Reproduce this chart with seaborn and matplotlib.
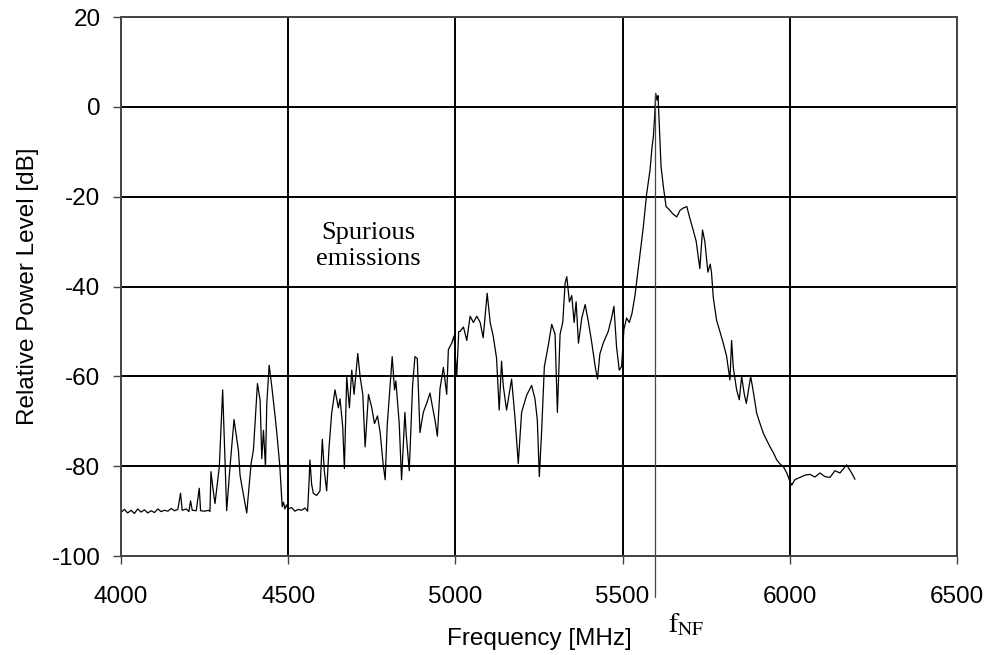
import pandas as pd
import seaborn as sns
import matplotlib.pyplot as plt

# spectrum (MHz, dB)
freq = [4000, 4010, 4020, 4030, 4040, 4050, 4060, 4070, 4080, 4090, 4100, 4110, 4120, 4130, 4140,
        4150, 4160, 4170, 4178, 4183, 4195, 4203, 4208, 4213, 4225, 4234, 4238, 4250, 4262, 4266,
        4269, 4275, 4281, 4288, 4294, 4304, 4316, 4326, 4338, 4351, 4356, 4361, 4376, 4389, 4396,
        4408, 4416, 4421, 4426, 4432, 4436, 4443, 4451, 4461, 4467, 4475, 4482, 4486, 4490, 4495,
        4500, 4510, 4520, 4530, 4540, 4550, 4558, 4562, 4565, 4570, 4575, 4585, 4595, 4602, 4608,
        4615, 4622, 4630, 4640, 4650, 4655, 4663, 4668, 4675, 4683, 4690, 4697, 4708, 4715, 4723,
        4730, 4740, 4750, 4758, 4767, 4775, 4784, 4790, 4796, 4805, 4811, 4818, 4822, 4832, 4839,
        4849, 4853, 4862, 4872, 4879, 4886, 4894, 4904, 4914, 4924, 4932, 4939, 4946, 4954, 4964,
        4974, 4979, 4989, 4996, 5004, 5010, 5014, 5024, 5034, 5044, 5054, 5064, 5074, 5083, 5095,
        5104, 5113, 5123, 5131, 5138, 5143, 5153, 5168, 5178, 5188, 5198, 5213, 5228, 5238, 5245,
        5251, 5258, 5266, 5278, 5288, 5298, 5305, 5313, 5321, 5328, 5333, 5341, 5348, 5355, 5361,
        5368, 5378, 5388, 5398, 5408, 5418, 5425, 5432, 5442, 5457, 5467, 5474, 5482, 5490, 5497,
        5504, 5512, 5520, 5528, 5537, 5550, 5562, 5572, 5582, 5588, 5592, 5596, 5599, 5603, 5606,
        5609, 5615, 5622, 5630, 5640, 5650, 5662, 5672, 5682, 5692, 5700, 5711, 5720, 5731, 5739,
        5746, 5755, 5762, 5766, 5771, 5781, 5791, 5801, 5811, 5821, 5826, 5831, 5841, 5849, 5856,
        5864, 5870, 5883, 5890, 5901, 5911, 5921, 5931, 5941, 5951, 5961, 5971, 5981, 5991, 6001,
        6006, 6015, 6030, 6045, 6060, 6075, 6090, 6105, 6120, 6135, 6150, 6170, 6185, 6195]
level = [-90.3, -89.6, -90.4, -89.8, -90.5, -89.5, -90.2, -89.7, -90.4, -89.9, -90.3, -89.5, -90.1, -89.8, -90.0,
         -89.4, -89.9, -89.6, -86.0, -89.8, -89.5, -90.1, -87.7, -89.8, -89.9, -84.9, -89.9, -90.0, -89.8, -90.1,
         -81.2, -85.0, -88.3, -83.8, -80.1, -63.0, -89.9, -80.1, -69.6, -76.4, -82.0, -84.2, -90.4, -79.4, -76.4,
         -61.6, -65.3, -78.3, -72.0, -80.1, -66.0, -57.5, -62.3, -69.0, -73.4, -80.1, -89.0, -88.0, -89.5, -88.6,
         -89.5, -89.2, -90.0, -89.6, -89.8, -89.3, -90.0, -84.0, -78.6, -84.0, -86.0, -86.5, -85.5, -74.0, -81.0,
         -85.5, -76.0, -68.2, -63.0, -67.0, -65.0, -71.2, -80.5, -60.1, -67.0, -58.6, -64.0, -54.9, -60.0, -64.0,
         -75.7, -64.0, -67.0, -70.5, -68.8, -72.5, -79.6, -83.0, -71.0, -61.8, -55.6, -63.0, -61.0, -70.5, -83.0,
         -68.0, -73.0, -81.0, -62.0, -55.6, -56.0, -72.5, -68.0, -66.0, -63.7, -67.0, -69.7, -73.3, -62.7, -58.0,
         -64.0, -54.0, -52.6, -51.0, -60.0, -50.0, -50.0, -49.0, -52.0, -46.6, -48.0, -46.6, -48.0, -51.4, -41.5,
         -48.0, -51.0, -55.9, -67.5, -56.6, -62.0, -67.5, -60.6, -69.0, -79.4, -68.0, -64.2, -62.0, -65.0, -69.7,
         -82.3, -72.0, -57.8, -53.0, -48.4, -50.6, -68.0, -50.6, -48.0, -39.3, -37.8, -43.4, -42.0, -48.0, -43.4,
         -52.6, -47.0, -44.0, -48.0, -52.6, -57.8, -60.6, -55.0, -52.6, -50.0, -47.0, -44.4, -53.5, -58.6, -57.8,
         -49.5, -47.0, -48.0, -46.0, -42.0, -34.1, -26.7, -19.3, -14.1, -9.0, -6.6, -2.0, 3.0, 1.5, 2.5,
         -2.9, -13.3, -17.8, -22.2, -22.9, -23.8, -24.5, -23.0, -22.5, -22.2, -24.5, -27.4, -29.9, -36.0, -27.4,
         -30.0, -36.8, -35.0, -37.0, -42.3, -47.5, -50.0, -52.6, -55.5, -60.8, -52.0, -58.0, -63.0, -65.2, -60.0,
         -64.0, -66.0, -60.0, -63.0, -68.2, -70.5, -72.7, -74.2, -75.7, -77.0, -78.6, -79.5, -80.1, -81.5, -83.5,
         -84.2, -83.0, -82.5, -82.0, -81.8, -82.4, -81.5, -82.3, -82.5, -81.0, -81.5, -79.7, -81.5, -82.9]

x_ticks = [4000, 4500, 5000, 5500, 6000, 6500]
y_ticks = [-100, -80, -60, -40, -20, 0, 20]
f_nf = 5597
f_nf_top = 3.0

df = pd.DataFrame({'freq': freq, 'level': level})

sns.set_style("ticks")
plt.rcParams['font.family'] = ['Liberation Sans', 'DejaVu Sans']
plt.rcParams['mathtext.fontset'] = 'stix'
plt.rcParams['axes.unicode_minus'] = False
plt.rcParams['text.color'] = 'black'
plt.rcParams['axes.labelcolor'] = 'black'

fig, ax = plt.subplots(figsize=(9.87, 6.55), dpi=100)
fig.subplots_adjust(left=0.1226, right=0.9696, top=0.974, bottom=0.151)

ax.grid(True, color='black', linewidth=1.4)
sns.lineplot(data=df, x='freq', y='level', color='black', linewidth=0.9,
             estimator=None, sort=False, ax=ax)

ax.set_xlim(4000, 6500)
ax.set_ylim(-100, 20)
ax.set_xticks(x_ticks)
ax.set_yticks(y_ticks)
ax.tick_params(axis='both', labelsize=17.5, direction='out', length=5.8,
               width=1.0, color='#444444', labelcolor='black')
ax.tick_params(axis='x', pad=16)
ax.tick_params(axis='y', pad=9)
for s in ax.spines.values():
    s.set_color('#444444')
    s.set_linewidth(1.4)

ax.set_xlabel("Frequency [MHz]", fontsize=17.5, labelpad=14)
ax.set_ylabel("Relative Power Level [dB]", fontsize=17.5, labelpad=9)

# marker line for the nominal frequency
ax.plot([f_nf, f_nf], [f_nf_top, -109], color='#444444', linewidth=0.9, clip_on=False)
ax.text(f_nf + 40, -117, r'$\mathrm{f}_{\mathrm{NF}}$', fontsize=20, clip_on=False)

ax.text(4739, -31, "Spurious\nemissions", fontsize=19, family='Liberation Serif',
        ha='center', va='center', multialignment='center', linespacing=1.2)

plt.savefig("out.png", dpi=100)
